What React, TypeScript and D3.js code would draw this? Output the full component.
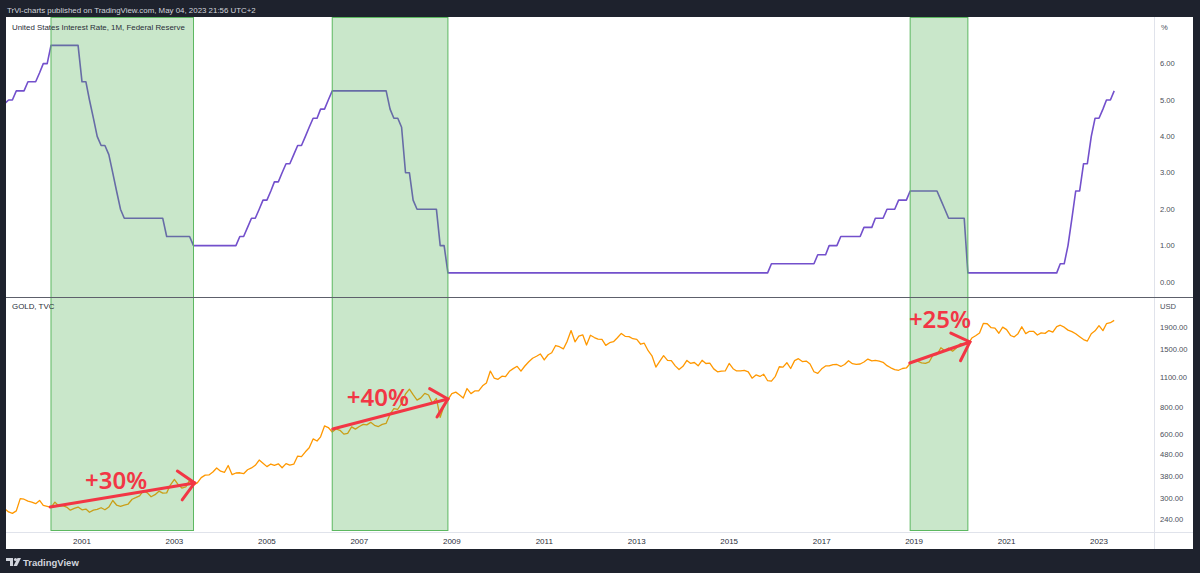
import React from 'react';
import * as d3 from 'd3';

// ---------- DATA ----------
// Monthly series, first point = May 1999
const seriesStart = new Date(1999, 4, 1);

// US Interest rate (upper target, %), monthly
const rateMonthly: number[] = [
  // 1999 May-Dec
  4.9, 5.0, 5.0, 5.25, 5.25, 5.25, 5.5, 5.5,
  // 2000
  5.5, 5.75, 6.0, 6.0, 6.5, 6.5, 6.5, 6.5, 6.5, 6.5, 6.5, 6.5,
  // 2001
  5.5, 5.5, 5.0, 4.5, 4.0, 3.75, 3.75, 3.5, 3.0, 2.5, 2.0, 1.75,
  // 2002
  1.75, 1.75, 1.75, 1.75, 1.75, 1.75, 1.75, 1.75, 1.75, 1.75, 1.25, 1.25,
  // 2003
  1.25, 1.25, 1.25, 1.25, 1.25, 1.0, 1.0, 1.0, 1.0, 1.0, 1.0, 1.0,
  // 2004
  1.0, 1.0, 1.0, 1.0, 1.0, 1.25, 1.25, 1.5, 1.75, 1.75, 2.0, 2.25,
  // 2005
  2.25, 2.5, 2.75, 2.75, 3.0, 3.25, 3.25, 3.5, 3.75, 3.75, 4.0, 4.25,
  // 2006
  4.5, 4.5, 4.75, 4.75, 5.0, 5.25, 5.25, 5.25, 5.25, 5.25, 5.25, 5.25,
  // 2007
  5.25, 5.25, 5.25, 5.25, 5.25, 5.25, 5.25, 5.25, 4.75, 4.5, 4.5, 4.25,
  // 2008
  3.0, 3.0, 2.25, 2.0, 2.0, 2.0, 2.0, 2.0, 2.0, 1.0, 1.0, 0.25,
  // 2009
  0.25, 0.25, 0.25, 0.25, 0.25, 0.25, 0.25, 0.25, 0.25, 0.25, 0.25, 0.25,
  // 2010
  0.25, 0.25, 0.25, 0.25, 0.25, 0.25, 0.25, 0.25, 0.25, 0.25, 0.25, 0.25,
  // 2011
  0.25, 0.25, 0.25, 0.25, 0.25, 0.25, 0.25, 0.25, 0.25, 0.25, 0.25, 0.25,
  // 2012
  0.25, 0.25, 0.25, 0.25, 0.25, 0.25, 0.25, 0.25, 0.25, 0.25, 0.25, 0.25,
  // 2013
  0.25, 0.25, 0.25, 0.25, 0.25, 0.25, 0.25, 0.25, 0.25, 0.25, 0.25, 0.25,
  // 2014
  0.25, 0.25, 0.25, 0.25, 0.25, 0.25, 0.25, 0.25, 0.25, 0.25, 0.25, 0.25,
  // 2015
  0.25, 0.25, 0.25, 0.25, 0.25, 0.25, 0.25, 0.25, 0.25, 0.25, 0.25, 0.5,
  // 2016
  0.5, 0.5, 0.5, 0.5, 0.5, 0.5, 0.5, 0.5, 0.5, 0.5, 0.5, 0.75,
  // 2017
  0.75, 0.75, 1.0, 1.0, 1.0, 1.25, 1.25, 1.25, 1.25, 1.25, 1.25, 1.5,
  // 2018
  1.5, 1.5, 1.75, 1.75, 1.75, 2.0, 2.0, 2.0, 2.25, 2.25, 2.25, 2.5,
  // 2019
  2.5, 2.5, 2.5, 2.5, 2.5, 2.5, 2.5, 2.25, 2.0, 1.75, 1.75, 1.75,
  // 2020
  1.75, 1.75, 0.25, 0.25, 0.25, 0.25, 0.25, 0.25, 0.25, 0.25, 0.25, 0.25,
  // 2021
  0.25, 0.25, 0.25, 0.25, 0.25, 0.25, 0.25, 0.25, 0.25, 0.25, 0.25, 0.25,
  // 2022
  0.25, 0.25, 0.5, 0.5, 1.0, 1.75, 2.5, 2.5, 3.25, 3.25, 4.0, 4.5,
  // 2023 Jan-May
  4.5, 4.75, 5.0, 5.0, 5.25,
];

// Gold (USD), monthly
const goldMonthly: number[] = [
  // 1999 May-Dec
  268, 259, 255, 262, 299, 297, 291, 288,
  // 2000
  283, 293, 278, 275, 272, 288, 276, 277, 273, 264, 269, 273,
  // 2001
  265, 267, 258, 264, 266, 271, 265, 273, 293, 279, 275, 279,
  // 2002
  282, 297, 302, 308, 326, 318, 305, 312, 324, 317, 318, 347,
  // 2003
  368, 347, 335, 339, 364, 346, 354, 375, 385, 386, 398, 416,
  // 2004
  402, 397, 427, 387, 394, 395, 391, 408, 416, 428, 453, 438,
  // 2005
  422, 434, 428, 435, 417, 436, 429, 433, 473, 470, 495, 517,
  // 2006
  569, 556, 582, 654, 643, 613, 633, 624, 599, 604, 648, 632,
  // 2007
  650, 665, 662, 680, 659, 650, 665, 673, 743, 789, 783, 834,
  // 2008
  923, 972, 916, 864, 885, 930, 913, 833, 880, 718, 815, 869,
  // 2009
  927, 942, 916, 884, 979, 927, 954, 955, 1008, 1040, 1182, 1096,
  // 2010
  1081, 1118, 1113, 1179, 1213, 1244, 1181, 1248, 1307, 1357, 1386, 1421,
  // 2011
  1332, 1409, 1439, 1556, 1536, 1500, 1628, 1828, 1620, 1722, 1746, 1565,
  // 2012
  1738, 1696, 1669, 1664, 1559, 1604, 1622, 1692, 1773, 1719, 1713, 1675,
  // 2013
  1663, 1578, 1595, 1472, 1393, 1234, 1312, 1395, 1327, 1323, 1250, 1202,
  // 2014
  1244, 1326, 1284, 1296, 1250, 1327, 1282, 1287, 1210, 1172, 1182, 1183,
  // 2015
  1283, 1212, 1183, 1183, 1190, 1172, 1095, 1134, 1115, 1142, 1065, 1061,
  // 2016
  1117, 1238, 1233, 1293, 1215, 1322, 1351, 1309, 1316, 1276, 1173, 1152,
  // 2017
  1211, 1249, 1249, 1268, 1269, 1242, 1269, 1322, 1280, 1271, 1275, 1303,
  // 2018
  1345, 1318, 1325, 1315, 1299, 1253, 1224, 1201, 1192, 1215, 1222, 1282,
  // 2019
  1321, 1313, 1292, 1284, 1306, 1409, 1413, 1520, 1472, 1513, 1464, 1517,
  // 2020
  1589, 1585, 1577, 1687, 1730, 1781, 1975, 1968, 1886, 1879, 1776, 1898,
  // 2021
  1847, 1734, 1708, 1769, 1906, 1770, 1814, 1813, 1743, 1783, 1774, 1829,
  // 2022
  1797, 1909, 1937, 1897, 1837, 1807, 1766, 1711, 1660, 1633, 1768, 1824,
  // 2023 Jan-May
  1928, 1827, 1969, 1990, 2040,
];

const yearTicks = [2001, 2003, 2005, 2007, 2009, 2011, 2013, 2015, 2017, 2019, 2021, 2023];
const rateTicks = [0, 1, 2, 3, 4, 5, 6];
const goldTicks = [1900, 1500, 1100, 800, 600, 480, 380, 300, 240];

// Highlighted periods (rate plateaus)
const highlightStart = ['2000-05-01', '2006-06-01', '2018-12-01'];
const highlightEnd = ['2003-06-01', '2008-12-01', '2020-03-01'];

// Red arrow annotations on gold (date, price)
const arrowLabels = ['+30%', '+40%', '+25%'];
const arrowFromDate = ['2000-04-25', '2006-06-05', '2018-11-28'];
const arrowFromPrice = [273, 633, 1289];
const arrowToDate = ['2003-06-10', '2008-12-01', '2020-03-17'];
const arrowToPrice = [354, 875, 1617];
const labelDate = ['2001-01-25', '2006-09-24', '2018-11-21'];
const labelPrice = [331, 811, 1880];

// ---------- LAYOUT ----------
const W = 1200;
const H = 573;
const L = 6, R = 1154, RIGHT_EDGE = 1193;
const TOP = 17, SEP = 297, AXIS_Y = 532, BOTTOM = 549;

const parse = (s: string) => {
  const [y, m, d] = s.split('-').map(Number);
  return new Date(y, m - 1, d);
};
const monthDate = (i: number) => d3.timeMonth.offset(seriesStart, i);

const x = d3.scaleTime().domain([new Date(2001, 0, 1), new Date(2023, 0, 1)]).range([82, 1099]);
const yRate = d3.scaleLinear().domain([0, 6]).range([282, 63.6]);
const yGold = d3.scaleLog().domain([240, 1900]).range([519, 327]);

const BG = '#1e222d';
const RED = '#f23645';
const labelFont = '"Liberation Sans", Arial, sans-serif';

export default function App() {
  const rateLine = d3
    .line<number>()
    .x((_, i) => x(monthDate(i)))
    .y((v) => yRate(v))(rateMonthly) as string;
  const goldLine = d3
    .line<number>()
    .x((_, i) => x(monthDate(i)))
    .y((v) => yGold(v))(goldMonthly) as string;

  const arrows = arrowLabels.map((label, k) => {
    const x0 = x(parse(arrowFromDate[k]));
    const y0 = yGold(arrowFromPrice[k]);
    const x1 = x(parse(arrowToDate[k]));
    const y1 = yGold(arrowToPrice[k]);
    const a = Math.atan2(y1 - y0, x1 - x0);
    const len = 21;
    const spread = 0.77;
    const h1 = [x1 + len * Math.cos(a + Math.PI - spread), y1 + len * Math.sin(a + Math.PI - spread)];
    const h2 = [x1 + len * Math.cos(a + Math.PI + spread), y1 + len * Math.sin(a + Math.PI + spread)];
    return {
      label,
      shaft: `M${x0},${y0}L${x1},${y1}`,
      head: `M${h1[0]},${h1[1]}L${x1},${y1}L${h2[0]},${h2[1]}`,
      tx: x(parse(labelDate[k])),
      ty: yGold(labelPrice[k]),
    };
  });

  return (
    <svg
      width={W}
      height={H}
      style={{ position: 'absolute', left: 0, top: 0, display: 'block' }}
      xmlns="http://www.w3.org/2000/svg"
    >
      <defs>
        <clipPath id="clipTop">
          <rect x={L} y={TOP} width={R - L} height={SEP - TOP} />
        </clipPath>
        <clipPath id="clipBottom">
          <rect x={L} y={SEP} width={R - L} height={AXIS_Y - SEP} />
        </clipPath>
      </defs>
      <rect x={0} y={0} width={W} height={H} fill={BG} />
      <rect x={L} y={TOP} width={RIGHT_EDGE - L} height={BOTTOM - TOP} fill="#ffffff" />

      {/* header */}
      <text x={7} y={12.5} fontFamily={labelFont} fontSize={7.9} fill="#d1d4dc">
        TrVi-charts published on TradingView.com, May 04, 2023 21:56 UTC+2
      </text>

      {/* axis separators */}
      <line x1={R + 0.5} x2={R + 0.5} y1={TOP} y2={BOTTOM} stroke="#e0e3eb" />
      <line x1={L} x2={RIGHT_EDGE} y1={AXIS_Y + 0.5} y2={AXIS_Y + 0.5} stroke="#e0e3eb" />

      {/* series */}
      <path d={rateLine} clipPath="url(#clipTop)" fill="none" stroke="#7350cc" strokeWidth={1.6} strokeLinejoin="round" />
      <path d={goldLine} clipPath="url(#clipBottom)" fill="none" stroke="#ff9800" strokeWidth={1.3} strokeLinejoin="round" />

      {/* highlight boxes */}
      {highlightStart.map((s, k) => {
        const x0 = x(parse(s));
        const x1 = x(parse(highlightEnd[k]));
        return (
          <rect
            key={s}
            x={x0}
            y={TOP + 0.5}
            width={x1 - x0}
            height={AXIS_Y - 2 - TOP}
            fill="rgba(76,175,80,0.3)"
            stroke="#5cb860"
            strokeWidth={1}
          />
        );
      })}

      {/* pane separator */}
      <line x1={L} x2={RIGHT_EDGE} y1={SEP + 0.5} y2={SEP + 0.5} stroke="#5d606b" strokeWidth={1} />

      {/* pane titles */}
      <text x={12} y={30} fontFamily={labelFont} fontSize={7.9} fill="#2a2e39">
        United States Interest Rate, 1M, Federal Reserve
      </text>
      <text x={12} y={309} fontFamily={labelFont} fontSize={7.9} fill="#2a2e39">
        GOLD, TVC
      </text>

      {/* right axis: rate */}
      <text x={1161} y={30} fontFamily={labelFont} fontSize={7.6} fill="#4a4e59">%</text>
      {rateTicks.map((t) => (
        <text key={t} x={1160} y={yRate(t)} dy="0.35em" fontFamily={labelFont} fontSize={7.6} fill="#4a4e59">
          {t.toFixed(2)}
        </text>
      ))}

      {/* right axis: gold */}
      <text x={1160} y={309} fontFamily={labelFont} fontSize={7.6} fill="#4a4e59">USD</text>
      {goldTicks.map((t) => (
        <text key={t} x={1160} y={yGold(t)} dy="0.35em" fontFamily={labelFont} fontSize={7.6} fill="#4a4e59">
          {t.toFixed(2)}
        </text>
      ))}

      {/* time axis */}
      {yearTicks.map((yr) => (
        <text
          key={yr}
          x={x(new Date(yr, 0, 1))}
          y={541}
          dy="0.35em"
          textAnchor="middle"
          fontFamily={labelFont}
          fontSize={8}
          fill="#2a2e39"
        >
          {yr}
        </text>
      ))}

      {/* annotations */}
      {arrows.map((a) => (
        <g key={a.label}>
          <path d={a.shaft} stroke={RED} strokeWidth={3} fill="none" strokeLinecap="round" />
          <path d={a.head} stroke={RED} strokeWidth={3} fill="none" strokeLinecap="round" strokeLinejoin="miter" />
          <text x={a.tx} y={a.ty} fontFamily='"Noto Sans", sans-serif' fontWeight={600} fontSize={24} fill={RED}>
            {a.label}
          </text>
        </g>
      ))}

      {/* footer logo */}
      <g fill="#d1d4dc">
        <rect x={6} y={558} width={7} height={3} />
        <rect x={10} y={558} width={3} height={8} />
        <circle cx={15.5} cy={559.5} r={1.6} />
        <polygon points="17.5,558 21,558 17,566 13.5,566" />
      </g>
      <text x={23} y={565.5} fontFamily={labelFont} fontSize={9.5} fontWeight={600} fill="#d1d4dc">
        TradingView
      </text>
    </svg>
  );
}
